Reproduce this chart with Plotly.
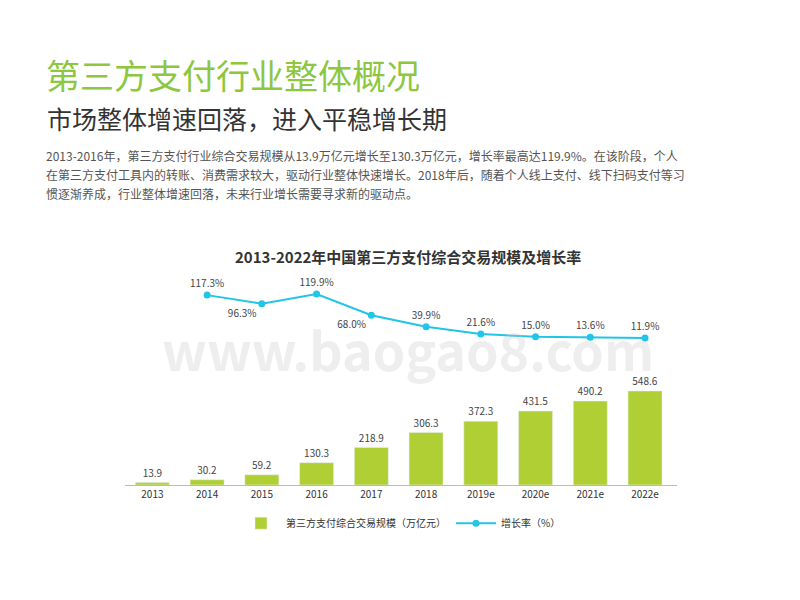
import plotly.graph_objects as go

years = ['2013', '2014', '2015', '2016', '2017', '2018', '2019e', '2020e', '2021e', '2022e']
scale = [13.9, 30.2, 59.2, 130.3, 218.9, 306.3, 372.3, 431.5, 490.2, 548.6]
growth_years = years[1:]
growth = [117.3, 96.3, 119.9, 68.0, 39.9, 21.6, 15.0, 13.6, 11.9]
growth_pos = ['top center', 'bottom left', 'top center', 'bottom left', 'top center',
              'top center', 'top center', 'top center', 'top center']

green = '#b0cf34'
blue = '#22c4e8'
font = 'Noto Sans CJK SC'
L, R, T, B = 117, 131, 262, 123

fig = go.Figure()
fig.add_trace(go.Bar(x=years, y=scale, name='第三方支付综合交易规模（万亿元）',
                     marker_color=green, width=0.62, text=[f'{v:.1f}' for v in scale],
                     textposition='outside', textfont=dict(size=10, color='#444'),
                     cliponaxis=False))
fig.add_trace(go.Scatter(x=growth_years, y=growth, name='增长率（%）', yaxis='y2',
                         mode='lines+markers+text', line=dict(color=blue, width=2),
                         marker=dict(size=7, color=blue),
                         text=[f'{v:.1f}%' for v in growth], textposition=growth_pos,
                         textfont=dict(size=10, color='#444'), cliponaxis=False))

fig.update_layout(
    width=800, height=600, plot_bgcolor='white', paper_bgcolor='white',
    font=dict(family=font, color='#444'),
    margin=dict(l=L, r=R, t=T, b=B),
    xaxis=dict(type='category', showline=True, linecolor='#bbb', ticks='',
               tickfont=dict(size=10, color='#333')),
    yaxis=dict(range=[0, 1255], visible=False),
    yaxis2=dict(range=[-349, 179], overlaying='y', visible=False),
    showlegend=True,
    legend=dict(orientation='h', x=0.5, xanchor='center', y=-0.11, yanchor='top',
                font=dict(size=10, color='#333'), itemwidth=40),
)

def to_paper(x, y):
    return (x - L) / (800 - L - R), (600 - B - y) / (600 - T - B)

def ann(text, x, y, size, color, weight='normal', xanchor='left'):
    px, py = to_paper(x, y)
    fig.add_annotation(text=text, x=px, y=py, xref='paper', yref='paper',
                       xanchor=xanchor, yanchor='middle', showarrow=False, align='left',
                       font=dict(size=size, color=color, family=font, weight=weight))

ann('www.baogao8.com', 400, 340, 52, 'rgba(200,200,200,0.3)', 'bold', 'center')
ann('第三方支付行业整体概况', 36, 66, 34, '#8dc63f')
ann('市场整体增速回落，进入平稳增长期', 37, 110, 25, '#333')
ann('2013-2016年，第三方支付行业综合交易规模从13.9万亿元增长至130.3万亿元，增长率最高达119.9%。在该阶段，个人', 36, 147, 12, '#555')
ann('在第三方支付工具内的转账、消费需求较大，驱动行业整体快速增长。2018年后，随着个人线上支付、线下扫码支付等习', 36, 166, 12, '#555')
ann('惯逐渐养成，行业整体增速回落，未来行业增长需要寻求新的驱动点。', 36, 185, 12, '#555')
ann('2013-2022年中国第三方支付综合交易规模及增长率', 400, 248, 15, '#333', 'bold', 'center')

fig.write_html('out.html')
